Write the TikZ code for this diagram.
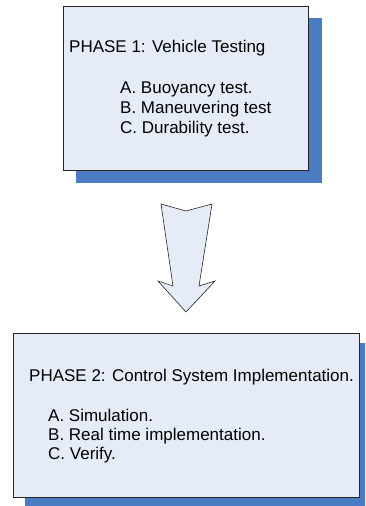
\documentclass[tikz,border=0pt]{standalone}
\usepackage{fontspec}
\setmainfont{Liberation Sans}
\begin{document}
\begin{tikzpicture}[x=1pt,y=-1pt,
  boxfill/.style={fill=boxblue,draw=boxline,line width=0.9pt},
  shadowfill/.style={fill=shadowblue,draw=none},
  txt/.style={anchor=base west,inner sep=0pt,font=\fontsize{17}{20}\selectfont}]
\definecolor{boxblue}{HTML}{E6ECF7}
\definecolor{shadowblue}{HTML}{4A7BC3}
\definecolor{boxline}{HTML}{262626}
\useasboundingbox (0,0) rectangle (365,506);
\clip (0,0) rectangle (365,506);
% Phase 1
\fill[shadowfill] (76,18) rectangle (322,183);
\draw[boxfill] (63,6) rectangle (308,170);
\node[txt] (t1) at (69,52) {PHASE 1: Vehicle Testing};
\node[txt] (a1) at (120,93) {A. Buoyancy test.};
\node[txt] (b1) at (120,113) {B. Maneuvering test};
\node[txt] (c1) at (120,133) {C. Durability test.};
% block arrow
\draw[fill=boxblue,draw=boxline,line width=0.6pt,line join=miter]
  (161,204) -- (186,211) -- (212,204) -- (199,286) -- (215,281) -- (186,312)
  -- (158,281) -- (173,286) -- cycle;
% Phase 2
\fill[shadowfill] (25,343) rectangle (372,510);
\draw[boxfill] (13,333) rectangle (359,497);
\node[txt] (t2) at (29,381) {PHASE 2: Control System Implementation.};
\node[txt] (a2) at (48,421) {A. Simulation.};
\node[txt] (b2) at (48,440) {B. Real time implementation.};
\node[txt] (c2) at (48,459) {C. Verify.};
\end{tikzpicture}
\end{document}
